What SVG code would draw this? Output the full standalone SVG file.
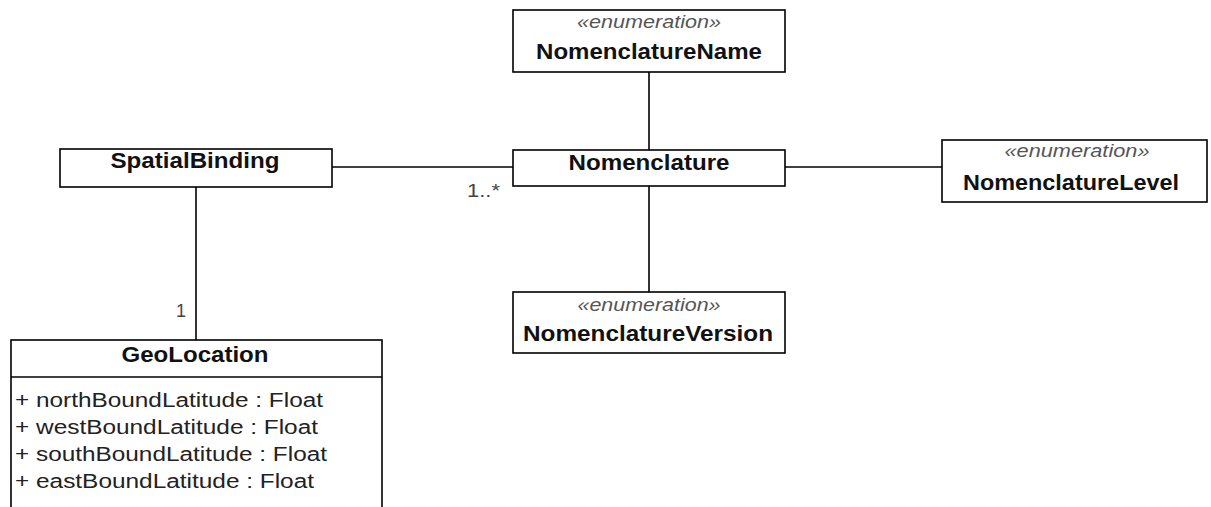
<svg xmlns="http://www.w3.org/2000/svg" width="1211" height="507" viewBox="0 0 1211 507">
<style>
.box{fill:#fff;stroke:#000;stroke-width:1.6}
.ln{fill:none;stroke:#000;stroke-width:1.6}
.t{font-family:"Liberation Sans",Arial,sans-serif;font-weight:bold;font-size:22px;fill:#111;text-anchor:middle}
.st{font-family:"Liberation Sans",Arial,sans-serif;font-style:italic;font-size:18px;fill:#555;text-anchor:middle}
.a{font-family:"Liberation Sans",Arial,sans-serif;font-size:19.5px;fill:#222}
.m{font-family:"Liberation Sans",Arial,sans-serif;font-size:18px;fill:#444}
</style>
<g id="connectors">
<line class="ln" x1="649" y1="72" x2="649" y2="150"/>
<line class="ln" x1="649" y1="186" x2="649" y2="292"/>
<line class="ln" x1="785" y1="167" x2="942" y2="167"/>
<line class="ln" x1="332" y1="167" x2="513" y2="167"/>
<line class="ln" x1="196" y1="187" x2="196" y2="340"/>
<text class="m" x="467" y="197" textLength="33" lengthAdjust="spacingAndGlyphs">1..*</text>
<text class="m" x="176" y="317">1</text>
</g>
<g id="NomenclatureName">
<rect class="box" x="513" y="10" width="272" height="62"/>
<text class="st" x="649" y="28" textLength="144" lengthAdjust="spacingAndGlyphs">«enumeration»</text>
<text class="t" x="649" y="59" textLength="226" lengthAdjust="spacingAndGlyphs">NomenclatureName</text>
</g>
<g id="Nomenclature">
<rect class="box" x="513" y="150" width="272" height="36"/>
<text class="t" x="649" y="170" textLength="161" lengthAdjust="spacingAndGlyphs">Nomenclature</text>
</g>
<g id="NomenclatureVersion">
<rect class="box" x="513" y="292" width="272" height="61"/>
<text class="st" x="649" y="311" textLength="143" lengthAdjust="spacingAndGlyphs">«enumeration»</text>
<text class="t" x="648" y="341" textLength="250" lengthAdjust="spacingAndGlyphs">NomenclatureVersion</text>
</g>
<g id="NomenclatureLevel">
<rect class="box" x="942" y="140" width="265" height="62"/>
<text class="st" x="1077" y="157" textLength="145" lengthAdjust="spacingAndGlyphs">«enumeration»</text>
<text class="t" x="1071" y="190" textLength="216" lengthAdjust="spacingAndGlyphs">NomenclatureLevel</text>
</g>
<g id="SpatialBinding">
<rect class="box" x="60" y="149" width="272" height="38"/>
<text class="t" x="195" y="168" textLength="169" lengthAdjust="spacingAndGlyphs">SpatialBinding</text>
</g>
<g id="GeoLocation">
<rect class="box" x="11" y="340" width="371" height="200"/>
<line class="ln" x1="11" y1="377" x2="382" y2="377"/>
<text class="t" x="195" y="362" textLength="147" lengthAdjust="spacingAndGlyphs">GeoLocation</text>
<text class="a" x="15" y="407" textLength="308" lengthAdjust="spacingAndGlyphs">+ northBoundLatitude : Float</text>
<text class="a" x="15" y="434" textLength="303" lengthAdjust="spacingAndGlyphs">+ westBoundLatitude : Float</text>
<text class="a" x="15" y="461" textLength="312" lengthAdjust="spacingAndGlyphs">+ southBoundLatitude : Float</text>
<text class="a" x="15" y="488" textLength="299" lengthAdjust="spacingAndGlyphs">+ eastBoundLatitude : Float</text>
</g>
</svg>
